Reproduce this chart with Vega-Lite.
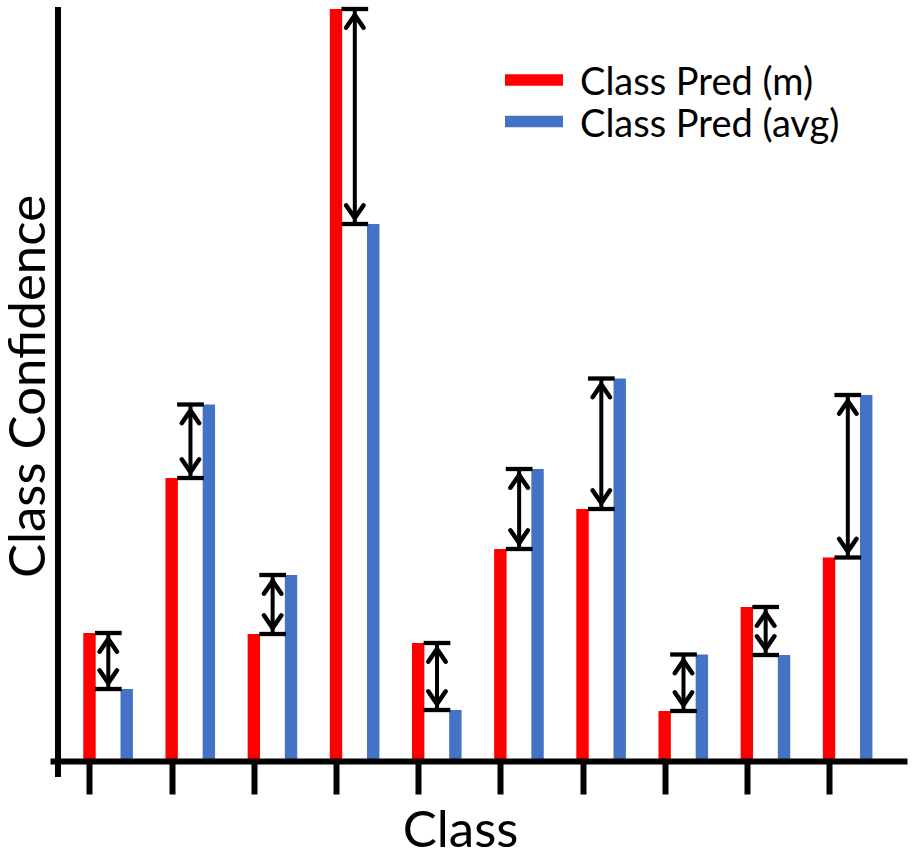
{
  "$schema": "https://vega.github.io/schema/vega-lite/v6.json",
  "width": 857,
  "height": 754,
  "autosize": {"type": "none"},
  "padding": {"left": 50, "top": 7, "right": 9, "bottom": 95},
  "background": "white",
  "config": {
    "view": {"stroke": null},
    "font": "Lato"
  },
  "data": {
    "values": [
      {"class": 1, "m": 128, "avg": 72},
      {"class": 2, "m": 283, "avg": 356.5},
      {"class": 3, "m": 127, "avg": 186},
      {"class": 4, "m": 752, "avg": 537},
      {"class": 5, "m": 118, "avg": 51},
      {"class": 6, "m": 212, "avg": 292},
      {"class": 7, "m": 252, "avg": 382.5},
      {"class": 8, "m": 50, "avg": 106.5},
      {"class": 9, "m": 154, "avg": 106},
      {"class": 10, "m": 203.5, "avg": 366}
    ]
  },
  "encoding": {
    "x": {
      "field": "class",
      "type": "quantitative",
      "scale": {"domain": [0.5193, 10.949], "nice": false, "zero": false, "padding": 0},
      "axis": {
        "values": [1, 2, 3, 4, 5, 6, 7, 8, 9, 10],
        "labels": false,
        "grid": false,
        "domain": true,
        "domainColor": "black",
        "domainWidth": 6,
        "domainCap": "butt",
        "ticks": true,
        "tickColor": "black",
        "tickWidth": 6,
        "tickSize": 33,
        "tickCap": "butt",
        "zindex": 1,
        "title": "Class",
        "titleFont": "Lato",
        "titleFontSize": 51,
        "titleFontWeight": "normal",
        "titleColor": "black",
        "titleX": 410,
        "titleY": 85,
        "titleAlign": "center",
        "titleBaseline": "alphabetic"
      }
    }
  },
  "layer": [
    {
      "mark": {"type": "bar", "width": 12.4},
      "encoding": {
        "y": {
          "field": "m",
          "type": "quantitative",
          "title": "Class Confidence",
          "scale": {"domain": [0, 754], "nice": false, "zero": true, "padding": 0},
          "axis": {
            "domain": false,
            "ticks": false,
            "labels": false,
            "grid": false,
            "title": "Class Confidence",
            "titleFont": "Lato",
            "titleFontSize": 51,
            "titleFontWeight": "normal",
            "titleColor": "black",
            "titleAngle": 270,
            "titleX": -6,
            "titleY": 379,
            "titleAlign": "center",
            "titleBaseline": "alphabetic"
          }
        },
        "color": {
          "datum": "Class Pred (m)",
          "type": "nominal",
          "scale": {"domain": ["Class Pred (m)", "Class Pred (avg)"], "range": ["#FF0000", "#4472C4"]},
          "legend": {
            "orient": "none",
            "legendX": 465,
            "legendY": 58,
            "title": null,
            "direction": "vertical",
            "symbolType": "M-2.9,-0.98H2.9V0.18H-2.9Z",
            "symbolSize": 400,
            "symbolStrokeWidth": 0,
            "labelFont": "Lato",
            "labelFontSize": 38,
            "labelColor": "black",
            "labelOffset": 27,
            "labelLimit": 0,
            "rowPadding": 3.5,
            "padding": 0
          }
        }
      }
    },
    {
      "mark": {"type": "bar", "width": 12.4, "xOffset": 37.2},
      "encoding": {
        "y": {"field": "avg", "type": "quantitative", "title": "Class Confidence"},
        "color": {"datum": "Class Pred (avg)", "type": "nominal"}
      }
    },
    {
      "mark": {"type": "rule", "color": "black", "strokeWidth": 6, "strokeCap": "butt"},
      "encoding": {
        "x": {"datum": 0.6167, "type": "quantitative"},
        "y": {"datum": 754, "type": "quantitative", "title": "Class Confidence"},
        "y2": {"datum": -16}
      }
    },
    {
      "mark": {"type": "tick", "orient": "horizontal", "size": 26.7, "thickness": 4.3, "xOffset": 18.8, "color": "black", "opacity": 1},
      "encoding": {
        "y": {"field": "m", "type": "quantitative", "title": "Class Confidence"}
      }
    },
    {
      "mark": {"type": "tick", "orient": "horizontal", "size": 26.7, "thickness": 4.3, "xOffset": 18.8, "color": "black", "opacity": 1},
      "encoding": {
        "y": {"field": "avg", "type": "quantitative", "title": "Class Confidence"}
      }
    },
    {
      "mark": {"type": "rule", "color": "black", "strokeWidth": 4, "xOffset": 18.8},
      "encoding": {
        "y": {"field": "m", "type": "quantitative", "title": "Class Confidence"},
        "y2": {"field": "avg"}
      }
    },
    {
      "mark": {"type": "point", "filled": false, "stroke": "black", "strokeWidth": 4.5, "size": 400, "xOffset": 18.8, "opacity": 1, "strokeCap": "round", "strokeJoin": "miter"},
      "encoding": {
        "y": {"field": "m", "type": "quantitative", "title": "Class Confidence"},
        "shape": {
          "condition": {"test": "datum.m > datum.avg", "value": "M-0.875,1.875L0,0.6L0.875,1.875"},
          "value": "M-0.875,-1.875L0,-0.6L0.875,-1.875"
        }
      }
    },
    {
      "mark": {"type": "point", "filled": false, "stroke": "black", "strokeWidth": 4.5, "size": 400, "xOffset": 18.8, "opacity": 1, "strokeCap": "round", "strokeJoin": "miter"},
      "encoding": {
        "y": {"field": "avg", "type": "quantitative", "title": "Class Confidence"},
        "shape": {
          "condition": {"test": "datum.avg > datum.m", "value": "M-0.875,1.875L0,0.6L0.875,1.875"},
          "value": "M-0.875,-1.875L0,-0.6L0.875,-1.875"
        }
      }
    }
  ]
}
